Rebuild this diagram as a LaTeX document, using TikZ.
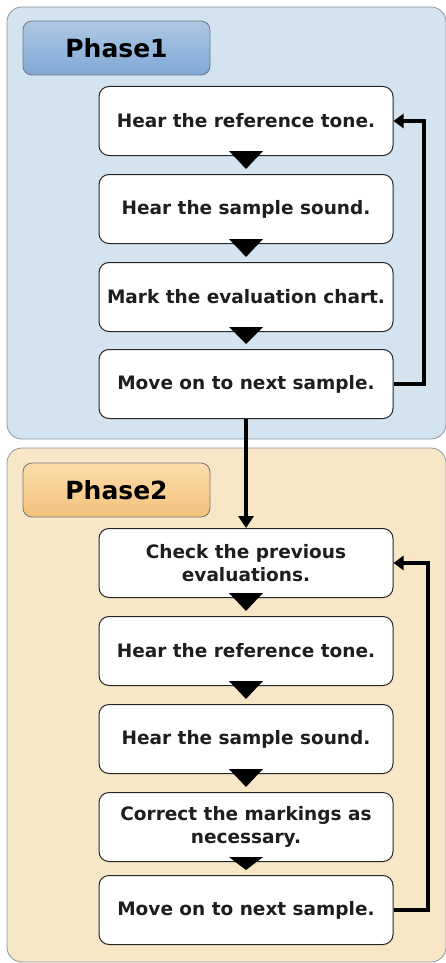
\documentclass[tikz,border=0pt]{standalone}
\usepackage{fontspec}
\setmainfont{DejaVu Sans}
\usetikzlibrary{arrows.meta}
\definecolor{panelA}{HTML}{D3E3F0}
\definecolor{panelB}{HTML}{F8E7C6}
\definecolor{panelline}{HTML}{8C949C}
\definecolor{labAtop}{HTML}{AFC8E4}
\definecolor{labAbot}{HTML}{7FA8D6}
\definecolor{labBtop}{HTML}{FBDDAA}
\definecolor{labBbot}{HTML}{F4C27C}
\definecolor{txt}{HTML}{1E1E1E}
\tikzset{
  panel/.style={draw=panelline, line width=0.8pt, rounded corners=15pt},
  phaselab/.style={draw=panelline!80!black, line width=0.8pt, rounded corners=9pt, minimum width=187pt, minimum height=54pt, inner sep=0pt, font=\bfseries\fontsize{25}{28}\selectfont, text=black},
  stepbox/.style={draw=black!85, fill=white, line width=1pt, rounded corners=10pt, minimum width=294pt, minimum height=69pt, inner sep=2pt, align=center, font=\bfseries\fontsize{18.5}{23}\selectfont, text=txt},
  tri/.style={fill=black, draw=none},
  loopline/.style={line width=4pt, line join=miter, -{Triangle[length=10pt,width=14pt]}},
}
\begin{document}
\begin{tikzpicture}[x=1pt,y=-1pt]
\useasboundingbox (0,0) rectangle (446,963);
% panels
\draw[panel, fill=panelA] (7,7) rectangle (446,439);
\draw[panel, fill=panelB] (7,448) rectangle (446,962);
% phase labels
\node[phaselab, top color=labAtop, bottom color=labAbot] (ph1) at (116.5,48) {Phase1};
\node[phaselab, top color=labBtop, bottom color=labBbot] (ph2) at (116.5,490) {Phase2};
% step boxes
\node[stepbox] (a1) at (246,121) {Hear the reference tone.};
\node[stepbox] (a2) at (246,209) {Hear the sample sound.};
\node[stepbox] (a3) at (246,297) {Mark the evaluation chart.};
\node[stepbox] (a4) at (246,384) {Move on to next sample.};
\node[stepbox] (b1) at (246,563) {Check the previous\\evaluations.};
\node[stepbox] (b2) at (246,651) {Hear the reference tone.};
\node[stepbox] (b3) at (246,739) {Hear the sample sound.};
\node[stepbox] (b4) at (246,827) {Correct the markings as\\necessary.};
\node[stepbox] (b5) at (246,910) {Move on to next sample.};
% triangles between boxes
\foreach \u/\l in {a1/a2,a2/a3,a3/a4,b1/b2,b2/b3,b3/b4,b4/b5}{
  \path[tri] ([xshift=-17pt,yshift=5pt]\u.south) -- ([xshift=17pt,yshift=5pt]\u.south) -- ([yshift=5pt]\l.north) -- cycle;
}
% connector between phases
\draw[line width=4pt, -{Triangle[length=12pt,width=15pt]}] (a4.south) -- (b1.north);
% feedback loops
\coordinate (ra) at (424,0);
\coordinate (rb) at (428,0);
\draw[loopline] (a4.east) -| (ra |- a1.east) -- (a1.east);
\draw[loopline] (b5.east) -| (rb |- b1.east) -- (b1.east);
\end{tikzpicture}
\end{document}
